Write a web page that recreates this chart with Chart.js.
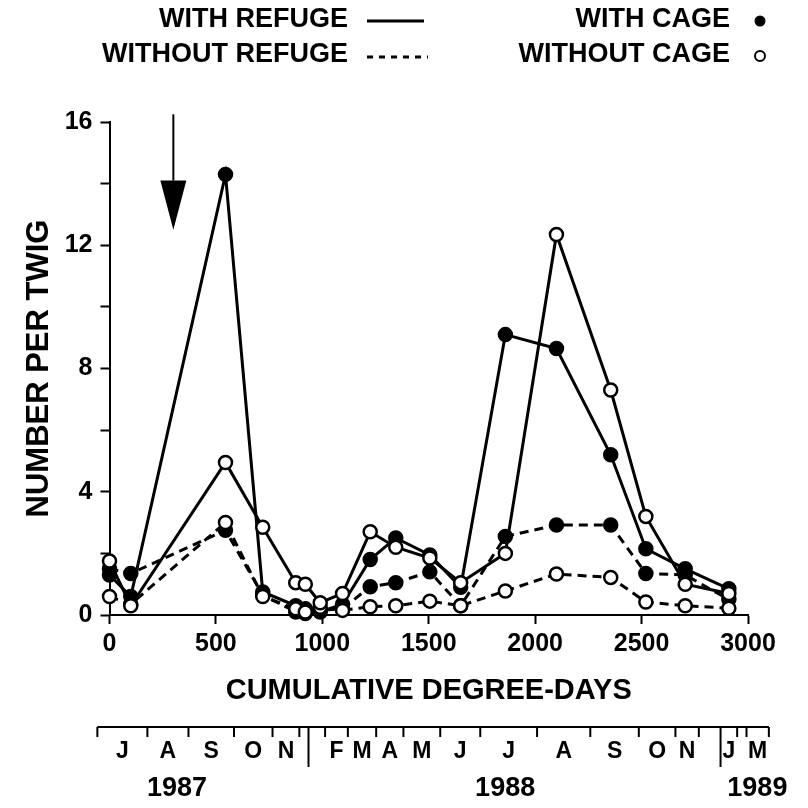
<!DOCTYPE html>
<html>
<head>
<meta charset="utf-8">
<script src="https://cdn.jsdelivr.net/npm/chart.js@4.4.1/dist/chart.umd.min.js"></script>
<style>
  body { margin: 0; background: #fff; }
  canvas { display: block; }
</style>
</head>
<body>
<canvas id="twigChart" width="808" height="808"></canvas>
<script>
// sampling dates, cumulative degree-days
const degreeDays = [0, 100, 545, 720, 875, 920, 990, 1095, 1225, 1345, 1505, 1650, 1860, 2100, 2355, 2520, 2705, 2910]

// number per twig
const refugeCage = [1.3, 0.6, 14.3, 0.75, 0.3, 0.2, 0.1, 0.35, 1.8, 2.5, 1.95, 0.9, 9.1, 8.65, 5.2, 2.15, 1.5, 0.85]
const refugeNoCage = [1.75, 0.3, 4.95, 2.85, 1.05, 1.0, 0.4, 0.7, 2.7, 2.2, 1.85, 1.05, 2.0, 12.35, 7.3, 3.2, 1.0, 0.7]
const noRefugeCage = [1.5, 1.35, 2.75, 0.65, 0.1, 0.05, 0.15, 0.2, 0.92, 1.05, 1.4, 0.3, 2.55, 2.92, 2.92, 1.35, 1.3, 0.5]
const noRefugeNoCage = [0.6, 0.35, 3.0, 0.6, 0.2, 0.1, 0.25, 0.15, 0.27, 0.3, 0.45, 0.3, 0.78, 1.33, 1.22, 0.42, 0.3, 0.22]

// calendar strip under the axis (month boundaries in degree-days)
const monthBounds = [-57, 178, 371, 585, 766, 892, 935, 1013, 1120, 1253, 1381, 1554, 1742, 2009, 2259, 2487, 2659, 2769, 2871, 2949, 2993, 3098]
const monthLabels = ['J', 'A', 'S', 'O', 'N', '', '', 'F', 'M', 'A', 'M', 'J', 'J', 'A', 'S', 'O', 'N', '', 'J', '', 'M']
const yearStarts = [935, 2871]
const yearLabels = ['1987', '1988', '1989']
const yearCenters = [317, 1859, 3044]

const xTicks = [0, 500, 1000, 1500, 2000, 2500, 3000]
const yLabelled = [0, 4, 8, 12, 16]

// arrow marking the release date
const arrowAt = 300
const arrowTop = 16.25
const arrowHeadBase = 14.1
const arrowTip = 12.5

const FONT = "'Liberation Sans', Arial, Helvetica, sans-serif"

const makeSet = (label, values, filled, dashed) => ({
    label: label,
    data: degreeDays.map((x, i) => ({ x: x, y: values[i] })),
    borderColor: '#000',
    borderWidth: 3,
    borderDash: dashed ? [9, 6] : [],
    pointRadius: 6.5,
    pointBorderWidth: 2.5,
    pointBackgroundColor: filled ? '#000' : '#fff',
    pointBorderColor: '#000',
    pointStyle: 'circle',
    tension: 0,
    clip: false
})

const extras = {
    id: 'extras',
    afterDraw: (chart) => {
        const ctx = chart.ctx
        const x = chart.scales.x
        const y = chart.scales.y
        ctx.save()
        ctx.strokeStyle = '#000'
        ctx.fillStyle = '#000'

        // arrow
        const ax = x.getPixelForValue(arrowAt)
        ctx.lineWidth = 2
        ctx.beginPath()
        ctx.moveTo(ax, y.getPixelForValue(arrowTop))
        ctx.lineTo(ax, y.getPixelForValue(arrowHeadBase))
        ctx.stroke()
        ctx.beginPath()
        ctx.moveTo(ax - 13, y.getPixelForValue(arrowHeadBase))
        ctx.lineTo(ax + 13, y.getPixelForValue(arrowHeadBase))
        ctx.lineTo(ax, y.getPixelForValue(arrowTip))
        ctx.closePath()
        ctx.fill()

        // month strip
        const stripY = 727
        ctx.lineWidth = 2
        ctx.beginPath()
        ctx.moveTo(x.getPixelForValue(monthBounds[0]), stripY)
        ctx.lineTo(x.getPixelForValue(monthBounds[monthBounds.length - 1]), stripY)
        monthBounds.forEach(b => {
            const px = x.getPixelForValue(b)
            ctx.moveTo(px, stripY)
            ctx.lineTo(px, yearStarts.includes(b) ? 767 : 737)
        })
        ctx.stroke()

        ctx.textAlign = 'center'
        ctx.textBaseline = 'middle'
        ctx.font = 'bold 23px ' + FONT
        monthLabels.forEach((m, i) => {
            if (!m) return
            const mid = (x.getPixelForValue(monthBounds[i]) + x.getPixelForValue(monthBounds[i + 1])) / 2
            ctx.fillText(m, mid, 752)
        })
        ctx.font = 'bold 27px ' + FONT
        yearLabels.forEach((t, i) => {
            ctx.fillText(t, x.getPixelForValue(yearCenters[i]), 789)
        })

        // legend
        ctx.font = 'bold 27px ' + FONT
        ctx.textAlign = 'right'
        ctx.fillText('WITH REFUGE', 348, 20)
        ctx.fillText('WITHOUT REFUGE', 348, 55)
        ctx.fillText('WITH CAGE', 730, 20)
        ctx.fillText('WITHOUT CAGE', 730, 55)
        ctx.lineWidth = 3
        ctx.beginPath()
        ctx.moveTo(367, 21)
        ctx.lineTo(424, 21)
        ctx.stroke()
        ctx.setLineDash([6, 6])
        ctx.beginPath()
        ctx.moveTo(367, 57)
        ctx.lineTo(428, 57)
        ctx.stroke()
        ctx.setLineDash([])
        ctx.beginPath()
        ctx.arc(760, 21, 5.5, 0, Math.PI * 2)
        ctx.fill()
        ctx.lineWidth = 2
        ctx.beginPath()
        ctx.arc(760, 56, 5, 0, Math.PI * 2)
        ctx.stroke()
        ctx.restore()
    }
}

const ctx = document.getElementById('twigChart').getContext('2d')
const twigChart = new Chart(ctx, {
    type: 'line',
    data: {
        datasets: [
            makeSet('with refuge, without cage', refugeNoCage, false, false),
            makeSet('without refuge, without cage', noRefugeNoCage, false, true),
            makeSet('with refuge, with cage', refugeCage, true, false),
            makeSet('without refuge, with cage', noRefugeCage, true, true)
        ]
    },
    options: {
        responsive: false,
        animation: false,
        devicePixelRatio: 1,
        layout: { padding: { left: 0, right: 60, top: 122, bottom: 0 } },
        plugins: {
            legend: { display: false },
            tooltip: { enabled: false }
        },
        scales: {
            x: {
                type: 'linear',
                min: 0,
                max: 3000,
                afterFit: (scale) => { scale.height = 193 },
                afterBuildTicks: (scale) => { scale.ticks = xTicks.map(v => ({ value: v })) },
                ticks: {
                    color: '#000',
                    font: { family: FONT, size: 25, weight: 'bold' },
                    padding: 5,
                    maxRotation: 0,
                    autoSkip: false,
                    callback: (v) => String(v)
                },
                grid: { drawOnChartArea: false, drawTicks: true, tickLength: 9, tickWidth: 2, color: '#000' },
                border: { display: true, color: '#000', width: 2 },
                title: {
                    display: true,
                    text: 'CUMULATIVE DEGREE-DAYS',
                    color: '#000',
                    font: { family: FONT, size: 29, weight: 'bold' },
                    padding: { top: 0, bottom: 100 }
                }
            },
            y: {
                min: 0,
                max: 16,
                afterFit: (scale) => { scale.width = 109.5 },
                ticks: {
                    stepSize: 2,
                    color: '#000',
                    font: { family: FONT, size: 25, weight: 'bold' },
                    padding: 8,
                    callback: (v) => yLabelled.includes(v) ? String(v) : ''
                },
                grid: { drawOnChartArea: false, drawTicks: true, tickLength: 9, tickWidth: 2, color: '#000' },
                border: { display: true, color: '#000', width: 2 },
                title: {
                    display: true,
                    text: 'NUMBER PER TWIG',
                    color: '#000',
                    font: { family: FONT, size: 31, weight: 'bold' },
                    padding: { top: 21, bottom: 0 }
                }
            }
        }
    },
    plugins: [extras]
})
</script>
</body>
</html>
